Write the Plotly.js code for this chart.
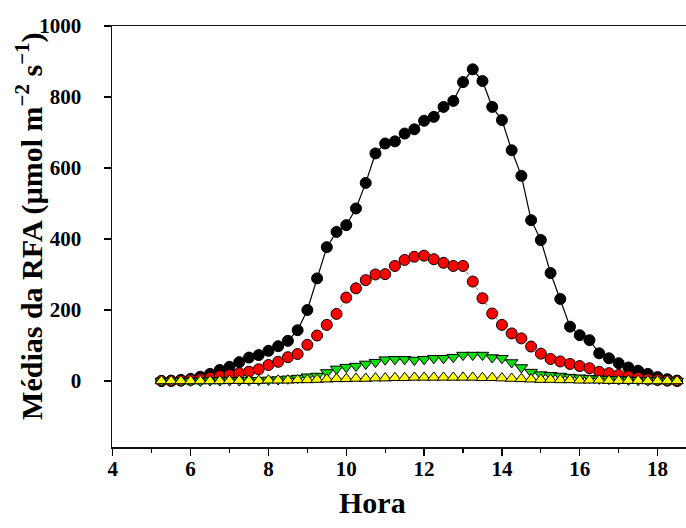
<!DOCTYPE html>
<html>
<head>
<meta charset="utf-8">
<script src="https://cdn.plot.ly/plotly-3.0.1.min.js"></script>
<style>
  html, body { margin: 0; padding: 0; background: #fff; }
  #chart { width: 686px; height: 528px; }
</style>
</head>
<body>
<div id="chart"></div>
<script>
// Hour of day (every 15 minutes)
const hours = [
  5.25, 5.5, 5.75, 6.0, 6.25, 6.5, 6.75, 7.0, 7.25, 7.5, 7.75, 8.0, 8.25, 8.5, 8.75,
  9.0, 9.25, 9.5, 9.75, 10.0, 10.25, 10.5, 10.75, 11.0, 11.25, 11.5, 11.75,
  12.0, 12.25, 12.5, 12.75, 13.0, 13.25, 13.5, 13.75, 14.0, 14.25, 14.5, 14.75,
  15.0, 15.25, 15.5, 15.75, 16.0, 16.25, 16.5, 16.75, 17.0, 17.25, 17.5, 17.75,
  18.0, 18.25, 18.5
];

// Series values (µmol m-2 s-1)
const blackSeries = [
  0, 1, 3, 6, 12, 20, 31, 40, 53, 66, 73, 85, 98, 113, 143,
  200, 289, 377, 420, 439, 486, 558, 641, 669, 675, 697, 709,
  733, 744, 772, 789, 842, 878, 845, 772, 735, 650, 578, 453,
  397, 304, 231, 153, 129, 115, 78, 64, 50, 38, 29, 20,
  11, 5, 1
];
const redSeries = [
  0, 0, 1, 3, 5, 9, 14, 17, 22, 26, 33, 45, 54, 67, 76,
  102, 128, 158, 189, 235, 261, 284, 300, 301, 324, 341, 350,
  353, 343, 333, 324, 324, 280, 233, 190, 158, 134, 120, 97,
  77, 62, 55, 48, 42, 36, 26, 22, 17, 13, 9, 5,
  3, 1, 0
];
const greenSeries = [
  0, 0, 0, 0, 0, 1, 1, 1, 1, 2, 2, 3, 4, 6, 8,
  12, 14, 24, 34, 39, 42, 48, 53, 60, 61, 61, 59,
  61, 64, 64, 67, 73, 73, 73, 66, 64, 52, 38, 25,
  18, 16, 14, 11, 9, 8, 6, 5, 4, 3, 2, 1,
  1, 0, 0
];
const yellowSeries = [
  0, 0, 0, 0, 0, 0, 0, 1, 1, 1, 1, 2, 2, 2, 3,
  3, 4, 5, 6, 6, 7, 7, 8, 8, 9, 9, 10,
  10, 10, 10, 10, 10, 10, 9, 9, 8, 7, 6, 5,
  4, 4, 3, 3, 2, 2, 2, 1, 1, 1, 1, 0,
  0, 0, 0
];

const yTickVals = [0, 200, 400, 600, 800, 1000];
const yTickText = ['0', '200', '400', '600', '800', '1000'];
const xTickVals = [4, 6, 8, 10, 12, 14, 16, 18];
const xTickText = ['4', '6', '8', '10', '12', '14', '16', '18'];

const FONT = '"Liberation Serif", "Times New Roman", serif';

const traces = [
  {
    x: hours, y: blackSeries, type: 'scatter', mode: 'lines+markers',
    line: { color: '#000', width: 1.2 },
    marker: { symbol: 'circle', size: 11, color: '#000', line: { color: '#000', width: 1 } }
  },
  {
    x: hours, y: redSeries, type: 'scatter', mode: 'lines+markers',
    line: { color: '#777', width: 1, dash: 'dot' },
    marker: { symbol: 'circle', size: 11, color: '#ff0000', line: { color: '#000', width: 1 } }
  },
  {
    x: hours, y: greenSeries, type: 'scatter', mode: 'lines+markers',
    line: { color: '#777', width: 1, dash: 'dot' },
    marker: { symbol: 'triangle-down', size: 11, color: '#11dd11', line: { color: '#000', width: 1 } }
  },
  {
    x: hours, y: yellowSeries, type: 'scatter', mode: 'lines+markers',
    line: { color: '#777', width: 1, dash: 'dot' },
    marker: { symbol: 'triangle-up', size: 11, color: '#ffff00', line: { color: '#000', width: 1 } }
  }
];

const layout = {
  width: 686, height: 528,
  margin: { l: 112, r: 0, t: 26, b: 81 },
  paper_bgcolor: '#fff', plot_bgcolor: '#fff',
  showlegend: false,
  font: { family: FONT, color: '#000' },
  xaxis: {
    range: [3.98, 18.73],
    tickmode: 'array', tickvals: xTickVals, ticktext: xTickText,
    ticks: 'outside', ticklen: 7, tickwidth: 1.3, tickcolor: '#000',
    minor: { dtick: 1, tick0: 4, ticks: 'outside', ticklen: 4, tickwidth: 1.2, tickcolor: '#000', showgrid: false },
    showline: true, linecolor: '#111', linewidth: 1.5, mirror: true,
    showgrid: false, zeroline: false,
    tickfont: { family: FONT, size: 21, color: '#000', weight: 'bold' },
    ticklabelstandoff: -5
  },
  yaxis: {
    range: [-186, 1000],
    tickmode: 'array', tickvals: yTickVals, ticktext: yTickText,
    ticks: 'outside', ticklen: 7, tickwidth: 1.3, tickcolor: '#000',
    showline: true, linecolor: '#111', linewidth: 1.5,
    showgrid: false, zeroline: false,
    tickfont: { family: FONT, size: 21, color: '#000', weight: 'bold' },
    ticklabelstandoff: 18
  },
  annotations: [
    {
      text: '<b>Hora</b>', xref: 'paper', yref: 'paper',
      x: 0.453, y: -0.133, xanchor: 'center', yanchor: 'middle',
      showarrow: false, font: { family: FONT, size: 30, color: '#000' }
    },
    {
      text: '<b>Médias da RFA (µmol m<sup>−2</sup> s<sup>−1</sup>)</b>', xref: 'paper', yref: 'paper',
      x: -0.143, y: 0.525, xanchor: 'center', yanchor: 'middle', textangle: -90,
      showarrow: false, font: { family: FONT, size: 30, color: '#000' }
    }
  ]
};

Plotly.newPlot('chart', traces, layout, { staticPlot: true, displayModeBar: false });
</script>
</body>
</html>
